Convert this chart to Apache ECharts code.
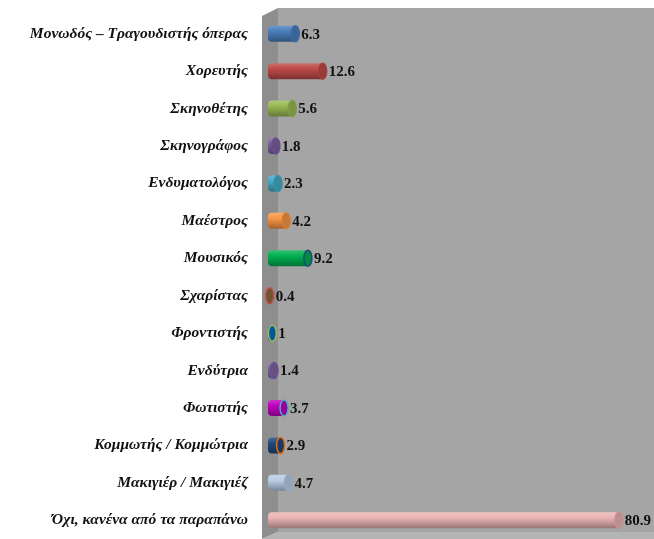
<!DOCTYPE html>
<html><head><meta charset="utf-8">
<script src="https://cdn.jsdelivr.net/npm/echarts@6/dist/echarts.min.js"></script>
<style>html,body{margin:0;padding:0;background:#fff}#c{width:654px;height:539px}</style>
</head><body><div id="c"></div>
<script>
const categories = [
  'Μονωδός – Τραγουδιστής όπερας','Χορευτής','Σκηνοθέτης','Σκηνογράφος','Ενδυματολόγος',
  'Μαέστρος','Μουσικός','Σχαρίστας','Φροντιστής','Ενδύτρια','Φωτιστής',
  'Κομμωτής / Κομμώτρια','Μακιγιέρ / Μακιγιέζ','Όχι, κανένα από τα παραπάνω'
];
const values = [6.3, 12.6, 5.6, 1.8, 2.3, 4.2, 9.2, 0.4, 1, 1.4, 3.7, 2.9, 4.7, 80.9];
const barColors = ['#4a7ebb','#be4b48','#98b954','#7d60a0','#46aac5','#f79646','#00b050','#8b6a3a','#0070c0','#8064a2','#c000c0','#1f497d','#b9cde5','#eab4b4'];
const capStroke = ['#3c6aa3','#a33e3b','#7f9c43','#674e88','#3890a8','#d67d36','#1f497d','#c0504d','#9bbb59','#6b5290','#4bacc6','#e46c0a','#95a9c4','#c98f8f'];

const chart = echarts.init(document.getElementById('c'));
function shade(hex, f){
  const n=parseInt(hex.slice(1),16);let r=n>>16,g=(n>>8)&255,b=n&255;
  if(f>0){r+= (255-r)*f;g+=(255-g)*f;b+=(255-b)*f;}else{r*=1+f;g*=1+f;b*=1+f;}
  return 'rgb('+Math.round(r)+','+Math.round(g)+','+Math.round(b)+')';
}
chart.setOption({
  animation:false,
  grid:{left:268,right:0,top:15,height:524},
  graphic:[
    {type:'polygon',z:-10,shape:{points:[[262,16],[278,8],[278,532],[262,539]]},style:{fill:'#8e8e8e'}},
    {type:'rect',z:-10,shape:{x:278,y:8,width:376,height:524},style:{fill:'#a5a5a5'}},
    {type:'polygon',z:-10,shape:{points:[[262,539],[278,532],[654,532],[654,539]]},style:{fill:'#b4b4b4'}}
  ],
  xAxis:{type:'value',min:0,max:89,show:false},
  yAxis:{type:'category',data:categories,inverse:true,
    axisLine:{show:false},axisTick:{show:false},splitLine:{show:false},
    axisLabel:{margin:20,fontFamily:'Liberation Serif',fontStyle:'italic',fontWeight:'bold',fontSize:15.5,color:'#111'}},
  series:[{
    type:'custom',
    data:values.map((v,i)=>[v,i]),
    renderItem:function(params,api){
      const i=api.value(1), v=api.value(0);
      const p0=api.coord([0,i]), p1=api.coord([v,i]);
      const h=16, rx=4;
      const x0=p0[0], x1=Math.max(p1[0], x0+1), y=p0[1];
      const c=barColors[i];
      return {type:'group',children:[
        {type:'rect',shape:{x:x0,y:y-h/2,width:x1-x0,height:h,r:[4,0,0,4]},
         style:{fill:new echarts.graphic.LinearGradient(0,0,0,1,[
           {offset:0,color:shade(c,0.2)},{offset:0.35,color:c},{offset:1,color:shade(c,-0.35)}])}},
        {type:'ellipse',shape:{cx:x1,cy:y,rx:rx,ry:h/2},
         style:{fill:shade(c,-0.2),stroke:capStroke[i],lineWidth:1.5}},
        {type:'text',style:{x:x1+rx+2,y:y+1,text:String(v),textVerticalAlign:'middle',
         font:'bold 15px "Liberation Serif"',fill:'#111'}}
      ]};
    }
  }]
});
</script></body></html>
